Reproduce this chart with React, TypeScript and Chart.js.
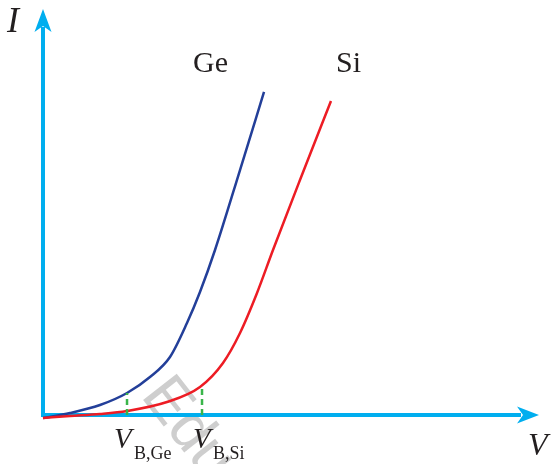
import React, { useEffect, useRef } from "react";
import { Chart, registerables } from "chart.js";

Chart.register(...registerables);

const geV = [0, 5.44, 11.49, 16.94, 21.57, 25.6, 29.03, 31.65, 34.68, 39.72, 44.56];
const geI = [-0.74, 0.49, 2.46, 5.42, 9.36, 14.29, 22.66, 30.3, 40.64, 60.34, 79.56];
const siV = [0, 5.44, 11.49, 16.94, 25.0, 31.65, 36.29, 39.72, 43.15, 46.37, 51.81, 58.06];
const siI = [-0.74, -0.25, 0.25, 0.99, 3.2, 6.9, 12.81, 20.2, 30.05, 40.64, 57.88, 77.34];
const vbGe = [16.94, 5.42];
const vbSi = [32.06, 6.9];

const AXIS = "#00aeef";
const SERIF = "'Liberation Serif', 'DejaVu Serif', serif";

const pts = (xs: number[], ys: number[]) => xs.map((x, i) => ({ x, y: ys[i] }));

const decorPlugin = {
  id: "decor",
  beforeDatasetsDraw(chart: any) {
    const ctx = chart.ctx;
    const xs = chart.scales.x;
    const ys = chart.scales.y;
    const x0 = xs.getPixelForValue(0);
    const y0 = ys.getPixelForValue(0);
    const xt = xs.getPixelForValue(100);
    const yt = ys.getPixelForValue(100);
    ctx.save();
    // watermark
    ctx.save();
    ctx.translate(140, 396);
    ctx.rotate((52 * Math.PI) / 180);
    ctx.fillStyle = "rgba(190,190,190,0.75)";
    ctx.font = "62px 'Liberation Sans', Arial, sans-serif";
    ctx.textBaseline = "alphabetic";
    ctx.fillText("Edu", 0, 0);
    ctx.restore();
    // axes
    ctx.strokeStyle = AXIS;
    ctx.fillStyle = AXIS;
    ctx.lineWidth = 4;
    ctx.beginPath();
    ctx.moveTo(x0, y0);
    ctx.lineTo(xt - 18, y0);
    ctx.moveTo(x0, y0 + 2);
    ctx.lineTo(x0, yt + 18);
    ctx.stroke();
    // x arrow
    ctx.beginPath();
    ctx.moveTo(xt, y0);
    ctx.lineTo(xt - 22, y0 - 8.5);
    ctx.lineTo(xt - 16, y0);
    ctx.lineTo(xt - 22, y0 + 8.5);
    ctx.closePath();
    ctx.fill();
    // y arrow
    ctx.beginPath();
    ctx.moveTo(x0, yt);
    ctx.lineTo(x0 - 8.5, yt + 23);
    ctx.lineTo(x0, yt + 17);
    ctx.lineTo(x0 + 8.5, yt + 23);
    ctx.closePath();
    ctx.fill();
    ctx.restore();
  },
  afterDraw(chart: any) {
    const ctx = chart.ctx;
    ctx.save();
    ctx.fillStyle = "#231f20";
    ctx.textBaseline = "alphabetic";
    ctx.textAlign = "left";
    ctx.font = `italic 36px ${SERIF}`;
    ctx.fillText("I", 7, 32);
    ctx.font = `italic 32px ${SERIF}`;
    ctx.fillText("V", 528, 455);
    ctx.font = `30px ${SERIF}`;
    ctx.fillText("Ge", 193, 72);
    ctx.fillText("Si", 336, 72);
    ctx.font = `italic 29px ${SERIF}`;
    ctx.fillText("V", 114, 448);
    ctx.fillText("V", 193, 448);
    ctx.font = `18px ${SERIF}`;
    ctx.fillText("B,Ge", 134, 459);
    ctx.fillText("B,Si", 213, 459);
    ctx.restore();
  },
};

export default function App() {
  const ref = useRef<HTMLCanvasElement | null>(null);
  useEffect(() => {
    if (!ref.current) return;
    const line = (label: string, data: any, color: string) => ({
      label,
      data,
      showLine: true,
      borderColor: color,
      borderWidth: 2.5,
      pointRadius: 0,
      cubicInterpolationMode: "monotone",
      clip: false,
    });
    const dash = (label: string, v: number[]) => ({
      label,
      data: [
        { x: v[0], y: 0 },
        { x: v[0], y: v[1] },
      ],
      showLine: true,
      borderColor: "#3ab54a",
      borderWidth: 2.5,
      borderDash: [6, 4],
      pointRadius: 0,
      clip: false,
    });
    const chart = new Chart(ref.current, {
      type: "scatter",
      data: {
        datasets: [
          dash("VbGe", vbGe),
          dash("VbSi", vbSi),
          line("Si", pts(siV, siI), "#ed1c24"),
          line("Ge", pts(geV, geI), "#233f99"),
        ],
      } as any,
      options: {
        animation: false,
        responsive: false,
        layout: { padding: { left: 43, right: 14, top: 9, bottom: 49 } },
        plugins: { legend: { display: false }, tooltip: { enabled: false } },
        scales: {
          x: { type: "linear", min: 0, max: 100, display: false },
          y: { type: "linear", min: 0, max: 100, display: false },
        },
      } as any,
      plugins: [decorPlugin],
    });
    return () => chart.destroy();
  }, []);
  return (
    <div style={{ position: "fixed", left: 0, top: 0, width: 553, height: 464, background: "#fff" }}>
      <canvas ref={ref} width={553} height={464} style={{ width: 553, height: 464 }} />
    </div>
  );
}
